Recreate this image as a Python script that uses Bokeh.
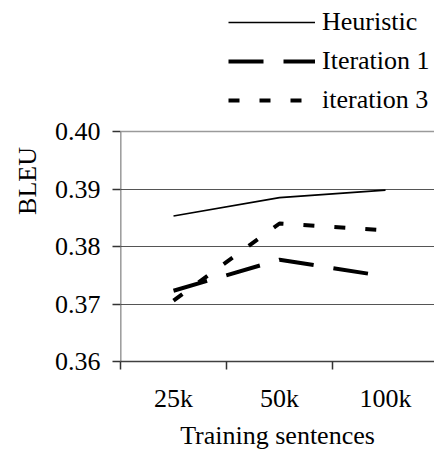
from bokeh.plotting import figure
from bokeh.models import Range1d, FixedTicker, Legend, LegendItem, Span
from bokeh.embed import file_html
from bokeh.resources import INLINE

categories = ["25k", "50k", "100k"]
heuristic = [0.3853, 0.3885, 0.3898]
iteration1 = [0.3723, 0.3777, 0.3748]
iteration3 = [0.3706, 0.3840, 0.3828]
y_ticks = [0.36, 0.37, 0.38, 0.39, 0.40]

xs = [i + 0.5 for i in range(len(categories))]
FONT = "Liberation Serif"
FS = "26px"

# frame spans from the top of the page so the legend can sit above the 0.40 line
px_per_unit = 230 / (y_ticks[-1] - y_ticks[0])
y_top = y_ticks[-1] + 131 / px_per_unit

p = figure(width=434, height=452, output_backend="svg", toolbar_location=None,
           x_range=Range1d(0, 2.962), y_range=Range1d(y_ticks[0], y_top),
           min_border_left=120, min_border_right=0, min_border_top=0,
           min_border_bottom=91)
p.outline_line_color = None
p.background_fill_color = "white"

p.xgrid.grid_line_color = None
p.ygrid.ticker = FixedTicker(ticks=y_ticks[1:-1], minor_ticks=[])
p.ygrid.grid_line_color = "#555555"
p.ygrid.grid_line_width = 1.2
p.add_layout(Span(location=y_ticks[-1], dimension="width",
                  line_color="#9a9a9a", line_width=1.6))

# y axis line (only up to the top tick)
p.segment(x0=[0], y0=[y_ticks[0]], x1=[0], y1=[y_ticks[-1]],
          line_color="#404040", line_width=1.6)

r1 = p.line(xs, heuristic, line_color="black", line_width=1.6)
r2 = p.line(xs, iteration1, line_color="black", line_width=4, line_dash="35 20")
r3 = p.line(xs, iteration3, line_color="black", line_width=4, line_dash="11 20")

# x axis
p.xaxis.ticker = FixedTicker(ticks=xs, minor_ticks=[0, 1, 2, 3])
p.xaxis.major_label_overrides = {x: c for x, c in zip(xs, categories)}
p.xaxis.major_tick_line_color = None
p.xaxis.major_tick_out = 8
p.xaxis.minor_tick_out = 8
p.xaxis.minor_tick_in = 0
p.xaxis.minor_tick_line_color = "#333333"
p.xaxis.minor_tick_line_width = 1.5
p.xaxis.axis_line_color = "#404040"
p.xaxis.axis_line_width = 1.5
p.xaxis.major_label_text_font = FONT
p.xaxis.major_label_text_font_size = FS
p.xaxis.major_label_text_color = "black"
p.xaxis.major_label_standoff = 14
p.xaxis.axis_label = "Training sentences"
p.xaxis.axis_label_text_font = FONT
p.xaxis.axis_label_text_font_size = FS
p.xaxis.axis_label_text_color = "black"
p.xaxis.axis_label_text_font_style = "normal"
p.xaxis.axis_label_standoff = 5

# y axis
p.yaxis.ticker = FixedTicker(ticks=y_ticks, minor_ticks=[])
p.yaxis.major_label_overrides = {t: f"{t:.2f}" for t in y_ticks}
p.yaxis.major_tick_out = 8
p.yaxis.major_tick_in = 0
p.yaxis.major_tick_line_color = "#333333"
p.yaxis.major_tick_line_width = 1.5
p.yaxis.axis_line_color = None
p.yaxis.major_label_text_font = FONT
p.yaxis.major_label_text_font_size = FS
p.yaxis.major_label_text_color = "black"
p.yaxis.major_label_standoff = 12
p.yaxis.axis_label = "BLEU"
p.yaxis.axis_label_text_font = FONT
p.yaxis.axis_label_text_font_size = FS
p.yaxis.axis_label_text_color = "black"
p.yaxis.axis_label_text_font_style = "normal"
p.yaxis.axis_label_standoff = 10

legend = Legend(items=[LegendItem(label="Heuristic", renderers=[r1]),
                       LegendItem(label="Iteration 1", renderers=[r2]),
                       LegendItem(label="iteration 3", renderers=[r3])],
                location=(108, 246), orientation="vertical")
legend.border_line_color = None
legend.background_fill_alpha = 0
legend.label_text_font = FONT
legend.label_text_font_size = FS
legend.label_text_color = "black"
legend.glyph_width = 87
legend.glyph_height = 30
legend.label_height = 30
legend.label_standoff = 7
legend.spacing = 9
legend.padding = 0
legend.margin = 0
p.add_layout(legend, "center")

open("out.html", "w").write(file_html(p, INLINE))
